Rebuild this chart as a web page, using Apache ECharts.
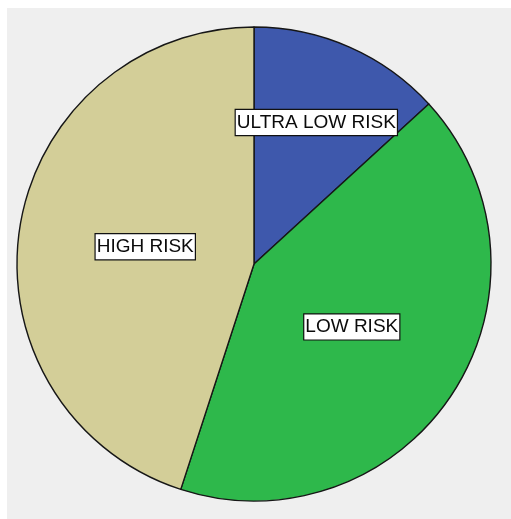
<!DOCTYPE html>
<html>
<head>
<meta charset="utf-8">
<script src="https://cdn.jsdelivr.net/npm/echarts@6/dist/echarts.min.js"></script>
<style>
  html, body { margin: 0; padding: 0; background: #ffffff; }
  #frame { position: absolute; left: 7px; top: 8px; width: 504px; height: 511px; background: #efefef; }
  #chart { position: absolute; left: 0; top: 0; width: 511px; height: 519px; }
</style>
</head>
<body>
<div id="frame"></div>
<div id="chart"></div>
<script>
// Risk category shares (percent)
const categories = ['ULTRA LOW RISK', 'LOW RISK', 'HIGH RISK'];
const shares = [13.2, 41.8, 45.0];
const colors = ['#3e58ac', '#2eb84b', '#d3ce98'];
// where each label sits along its slice's mid radius, as a fraction of the outer radius
const labelRadius = [0.64, 0.478, 0.452];

const R = 237;
const total = shares.reduce((a, b) => a + b, 0);

const chart = echarts.init(document.getElementById('chart'), null, { renderer: 'canvas' });
chart.setOption({
  backgroundColor: 'transparent',
  animation: false,
  series: [{
    type: 'pie',
    center: [254, 264],
    radius: [0, R],
    startAngle: 90,
    clockwise: true,
    avoidLabelOverlap: false,
    silent: true,
    data: categories.map((name, i) => ({
      name: name,
      value: shares[i],
      itemStyle: { color: colors[i] }
    })),
    itemStyle: { borderColor: '#161616', borderWidth: 1.4 },
    label: {
      show: true,
      position: 'inside',
      formatter: '{b}',
      fontFamily: '"Liberation Sans", Arial, sans-serif',
      fontSize: 19,
      color: '#0a0a0a',
      backgroundColor: '#ffffff',
      borderColor: '#111111',
      borderWidth: 1.2,
      padding: [3, 1, 2, 1],
      lineHeight: 20
    },
    labelLine: { show: false },
    labelLayout: function (params) {
      const i = params.dataIndex;
      let before = 0;
      for (let k = 0; k < i; k++) before += shares[k];
      const mid = (before + shares[i] / 2) / total * 2 * Math.PI;
      const extra = (labelRadius[i] - 0.5) * R;
      return { dx: Math.sin(mid) * extra, dy: -Math.cos(mid) * extra };
    }
  }]
});
</script>
</body>
</html>
